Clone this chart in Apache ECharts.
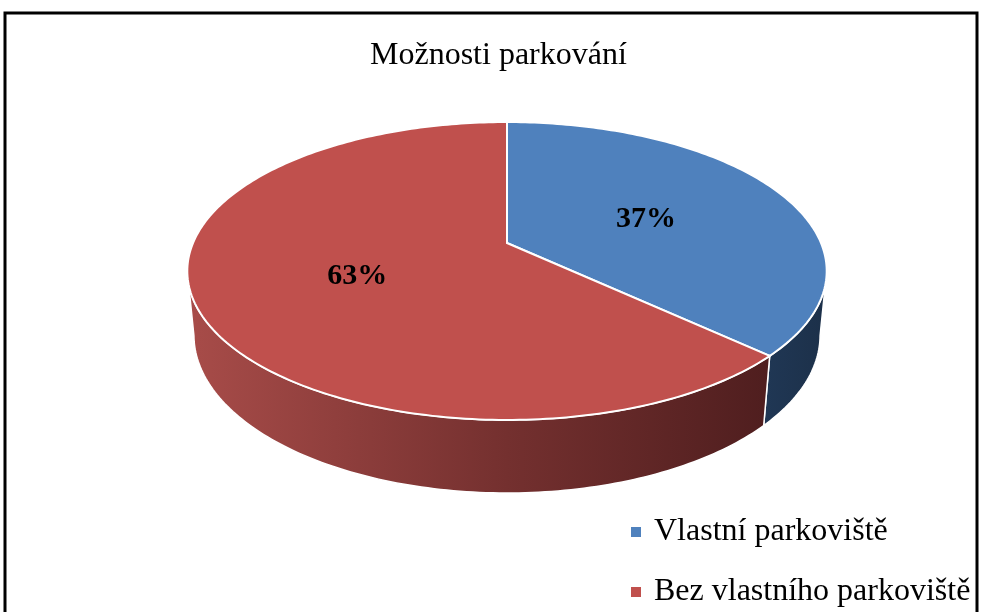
<!DOCTYPE html>
<html><head><meta charset="utf-8">
<script src="https://cdn.jsdelivr.net/npm/echarts@6/dist/echarts.min.js"></script>
<style>html,body{margin:0;padding:0;background:#fff}#c{width:981px;height:612px}</style>
</head><body><div id="c"></div>
<script>
// ---- data ----
const chartTitle = 'Možnosti parkování';
const categories = ['Vlastní parkoviště', 'Bez vlastního parkoviště'];
const values = [37, 63];

// ---- styles / layout ----
const topColors = ['#4f81bd', '#c0504d'];
const sideStops = [
  [[0, '#2a4870'], [0.85, '#223b5b'], [1, '#1c3049']],
  [[0, '#a84c49'], [0.5, '#74302f'], [1, '#471a1b']]
];
const P = {cx: 507, cy: 243, A: 314, B: 143.7, k: 0.188, m: 0.0204, D: 64.4};
const FONT = '"Liberation Serif","Times New Roman",serif';

function proj(theta, f, t) {
  const X = f * Math.sin(theta), Z = f * Math.cos(theta);
  const w = 1 + P.k * Z + P.m * t;
  return [P.cx + P.A * X / w, P.cy + (-P.B * Z + P.D * t) / w];
}
function arcPts(a, b, t) {
  const n = Math.max(2, Math.ceil(Math.abs(b - a) / (Math.PI / 180)));
  const pts = [];
  for (let i = 0; i <= n; i++) pts.push(proj(a + (b - a) * i / n, 1, t));
  return pts;
}
const total = values.reduce((s, v) => s + v, 0);
const thL = Math.acos(-P.k), thR = 2 * Math.PI - thL;

function makeRender(idx) {
  return function (params, api) {
    let before = 0;
    for (let j = 0; j < idx; j++) before += values[j];
    const a = before / total * 2 * Math.PI;
    const b = (before + api.value(0)) / total * 2 * Math.PI;
    const children = [];
    const sa = Math.max(a, thL), sb = Math.min(b, thR);
    if (sb > sa) {
      const topE = arcPts(sa, sb, 0);
      const botE = arcPts(sa, sb, 1).reverse();
      children.push({
        type: 'polygon', z2: 0,
        shape: {points: topE.concat(botE)},
        style: {
          fill: {type: 'linear', x: 187, y: 0, x2: 827, y2: 0, global: true,
            colorStops: sideStops[idx].map(s => ({offset: s[0], color: s[1]}))},
          stroke: '#ffffff', lineWidth: 1.5
        }
      });
    }
    const pts = [proj(0, 0, 0)].concat(arcPts(a, b, 0));
    children.push({
      type: 'polygon', z2: 10,
      shape: {points: pts},
      style: {fill: topColors[idx], stroke: '#ffffff', lineWidth: 2}
    });
    const mid = (a + b) / 2;
    const lp = proj(mid, 0.5, 0);
    children.push({
      type: 'text', z2: 20, x: lp[0], y: lp[1] + 4,
      style: {
        text: Math.round(api.value(0) / total * 100) + '%',
        fill: '#000', fontSize: 30, fontWeight: 'bold', fontFamily: FONT,
        align: 'center', verticalAlign: 'middle'
      }
    });
    return {type: 'group', children: children};
  };
}

const series = categories.map((name, i) => ({
  type: 'custom',
  name: name,
  coordinateSystem: 'none',
  data: [values[i]],
  itemStyle: {color: topColors[i]},
  renderItem: makeRender(i),
  animation: false
}));

const chart = echarts.init(document.getElementById('c'));
chart.setOption({
  backgroundColor: '#ffffff',
  animation: false,
  title: {
    text: chartTitle, left: 365, top: 35,
    textStyle: {fontFamily: FONT, fontSize: 32, fontWeight: 'normal', color: '#000'}
  },
  legend: {
    orient: 'vertical', left: 631, top: 516, itemGap: 28, padding: 0,
    icon: 'rect', itemWidth: 10, itemHeight: 10,
    data: categories,
    textStyle: {fontFamily: FONT, fontSize: 32, color: '#000', padding: [0, 0, 0, 8]}
  },
  graphic: [{
    type: 'rect', silent: true,
    shape: {x: 5, y: 13, width: 972, height: 640},
    style: {fill: 'none', stroke: '#000', lineWidth: 3}
  }],
  series: series
});
</script></body></html>
